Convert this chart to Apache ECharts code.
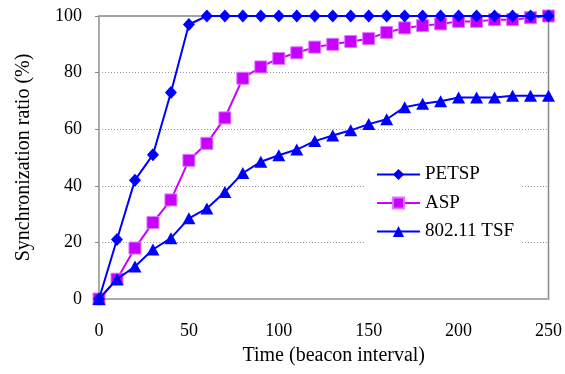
<!DOCTYPE html>
<html>
<head>
<meta charset="utf-8">
<script src="https://cdn.jsdelivr.net/npm/echarts@6/dist/echarts.min.js"></script>
<style>
	html, body { margin: 0; padding: 0; background: #fff; }
	#chart { width: 565px; height: 374px; }
</style>
</head>
<body>
<div id="chart"></div>
<script>
const times = [0, 10, 20, 30, 40, 50, 60, 70, 80, 90, 100, 110, 120, 130, 140, 150, 160, 170, 180, 190, 200, 210, 220, 230, 240, 250]
const petsp = [0, 21, 42, 51, 73, 97, 100, 100, 100, 100, 100, 100, 100, 100, 100, 100, 100, 100, 100, 100, 100, 100, 100, 100, 100, 100]
const asp = [0, 7, 18, 27, 35, 49, 55, 64, 78, 82, 85, 87, 89, 90, 91, 92, 94.2, 95.8, 96.6, 97.2, 98.1, 98.1, 98.7, 98.7, 99.4, 100]
const tsf = [0, 7, 11.5, 17.5, 21.5, 28.5, 32, 37.8, 44.5, 48.5, 50.8, 52.8, 55.8, 57.8, 59.6, 61.8, 63.5, 67.8, 69, 69.9, 71.2, 71.2, 71.2, 71.8, 71.8, 71.8]

const serif = '"Liberation Serif", "Times New Roman", serif'
const pairs = (ys) => times.map((t, i) => [t, ys[i]])

const chart = echarts.init(document.getElementById('chart'), null, { renderer: 'canvas' })

const option = {
	animation: false,
	backgroundColor: '#fff',
	textStyle: { fontFamily: serif },
	grid: {
		left: 99,
		right: 16,
		top: 16,
		bottom: 75,
		show: true,
		borderColor: '#888',
		borderWidth: 1.5,
		backgroundColor: 'transparent'
	},
	legend: {
		orient: 'vertical',
		left: 365,
		top: 159,
		padding: [6, 7, 8, 11],
		itemWidth: 43,
		itemHeight: 14,
		itemGap: 9.5,
		backgroundColor: '#fff',
		textStyle: { fontFamily: serif, fontSize: 19, color: '#000' },
		data: ['PETSP', 'ASP', '802.11 TSF']
	},
	xAxis: {
		type: 'value',
		min: 0,
		max: 250,
		interval: 50,
		name: 'Time (beacon interval)',
		nameLocation: 'middle',
		nameGap: 47,
		nameTextStyle: { fontFamily: serif, fontSize: 20, color: '#000', padding: [0, 0, 0, 20] },
		axisLine: { lineStyle: { color: '#aaa', width: 2 } },
		axisTick: { show: false },
		axisLabel: { fontFamily: serif, fontSize: 18, color: '#000', margin: 23 },
		splitLine: { show: false }
	},
	yAxis: {
		type: 'value',
		min: 0,
		max: 100,
		interval: 20,
		name: 'Synchronization ratio (%)',
		nameLocation: 'middle',
		nameGap: 65,
		nameTextStyle: { fontFamily: serif, fontSize: 20, color: '#000' },
		axisLine: { show: true, lineStyle: { color: '#aaa', width: 2 } },
		axisTick: { show: true, length: 4, lineStyle: { color: '#888' } },
		axisLabel: { fontFamily: serif, fontSize: 18, color: '#000', margin: 17 },
		splitLine: { show: true, lineStyle: { color: '#999', type: [1, 2], width: 1 } }
	},
	series: [
		{
			name: 'PETSP',
			type: 'line',
			data: pairs(petsp),
			symbol: 'diamond',
			symbolSize: [12, 13],
			lineStyle: { color: '#0000ff', width: 2 },
			itemStyle: { color: '#0000ff' },
			z: 3
		},
		{
			name: 'ASP',
			type: 'line',
			data: pairs(asp),
			symbol: 'rect',
			symbolSize: 12,
			lineStyle: { color: '#cc00ff', width: 2 },
			itemStyle: { color: '#c800ff', borderColor: '#dd77ff', borderWidth: 1 },
			z: 2
		},
		{
			name: '802.11 TSF',
			type: 'line',
			data: pairs(tsf),
			symbol: 'triangle',
			symbolSize: [13, 12],
			lineStyle: { color: '#0000ff', width: 2 },
			itemStyle: { color: '#0000ff' },
			z: 4
		}
	]
}

chart.setOption(option)
</script>
</body>
</html>
